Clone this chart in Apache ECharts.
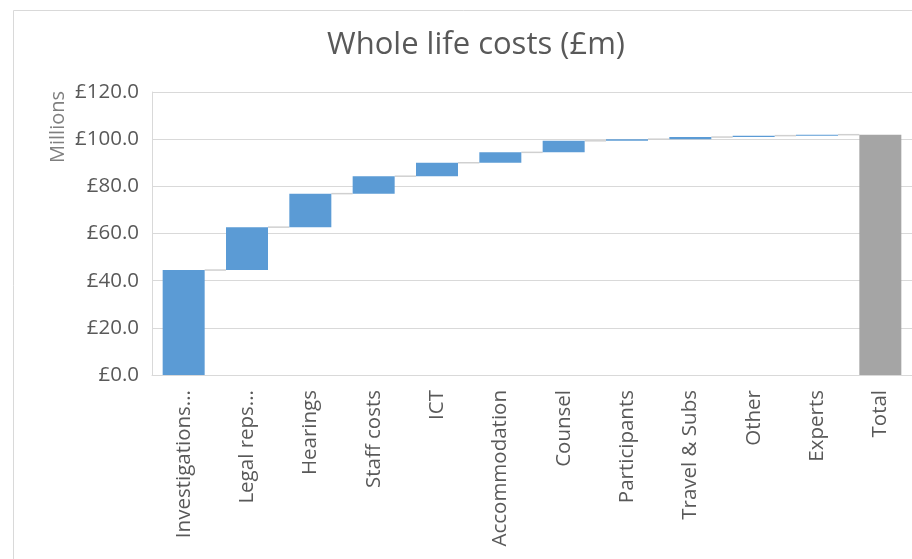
<!DOCTYPE html>
<html>
<head>
<meta charset="utf-8">
<script src="https://cdn.jsdelivr.net/npm/echarts@6/dist/echarts.min.js"></script>
<style>
html,body{margin:0;padding:0;background:#fff;}
#chart{width:912px;height:559px;}
</style>
</head>
<body>
<div id="chart"></div>
<script>
const categories = ['Investigations...', 'Legal reps...', 'Hearings', 'Staff costs', 'ICT', 'Accommodation', 'Counsel', 'Participants', 'Travel & Subs', 'Other', 'Experts', 'Total'];
const increments = [44.5, 18.2, 14.2, 7.4, 5.7, 4.4, 4.9, 0.7, 0.9, 0.6, 0.4];
const yTicks = [0, 20, 40, 60, 80, 100, 120];

// derived waterfall pieces
const bases = [];
const visible = [];
const cumulative = [];
let run = 0;
increments.forEach(v => { bases.push(run); visible.push(v); run += v; cumulative.push(run); });
const total = run;
bases.push(0);
visible.push(total);

const chart = echarts.init(document.getElementById('chart'));
const textColor = '#595959';
const font = '"Open Sans", "Noto Sans", sans-serif';

chart.setOption({
  animation: false,
  backgroundColor: '#fff',
  textStyle: { fontFamily: font },
  title: {
    text: 'Whole life costs (£m)',
    left: 471, top: 25, textAlign: 'center',
    textStyle: { color: textColor, fontSize: 31, fontWeight: 'normal', fontFamily: font }
  },
  graphic: [
    { type: 'rect', shape: { x: 13.5, y: 10.5, width: 1000, height: 700 }, style: { fill: 'none', stroke: '#d9d9d9', lineWidth: 1 }, silent: true },
    { type: 'text', x: 58, y: 127, rotation: Math.PI / 2, style: { text: 'Millions', fill: '#7f7f7f', font: '20px ' + font, textAlign: 'center', textVerticalAlign: 'middle' } }
  ],
  grid: { left: 152, top: 92, width: 763, bottom: 184, containLabel: false },
  xAxis: {
    type: 'category',
    data: categories,
    axisLine: { lineStyle: { color: '#d9d9d9', width: 1 } },
    axisTick: { show: false },
    axisLabel: { rotate: 90, color: textColor, fontSize: 20.5, margin: 15, interval: 0, fontFamily: font }
  },
  yAxis: {
    type: 'value',
    min: yTicks[0], max: yTicks[yTicks.length - 1], interval: yTicks[1] - yTicks[0],
    axisLine: { show: true, lineStyle: { color: '#d9d9d9' } },
    axisTick: { show: false },
    splitLine: { lineStyle: { color: '#d9d9d9', width: 1 } },
    axisLabel: { color: textColor, fontSize: 20.5, margin: 13, fontFamily: font, formatter: v => '£' + v.toFixed(1) }
  },
  series: [
    {
      type: 'bar', stack: 'wf', data: bases, barWidth: 42,
      itemStyle: { color: 'transparent' }, silent: true
    },
    {
      type: 'bar', stack: 'wf', barWidth: 42,
      data: visible.map((v, i) => ({ value: v, itemStyle: { color: i === visible.length - 1 ? '#a5a5a5' : '#5b9bd5' } }))
    },
    {
      type: 'custom',
      silent: true,
      data: cumulative.map((c, i) => [i, c]),
      renderItem: function (params, api) {
        const i = api.value(0);
        const c = api.value(1);
        const p1 = api.coord([i, c]);
        const p2 = api.coord([i + 1, c]);
        const half = 21;
        return {
          type: 'line',
          shape: { x1: p1[0] + half, y1: p1[1], x2: p2[0] - half, y2: p2[1] },
          style: { stroke: '#d0d0d0', lineWidth: 1.5 }
        };
      },
      z: 1
    }
  ]
});
</script>
</body>
</html>
